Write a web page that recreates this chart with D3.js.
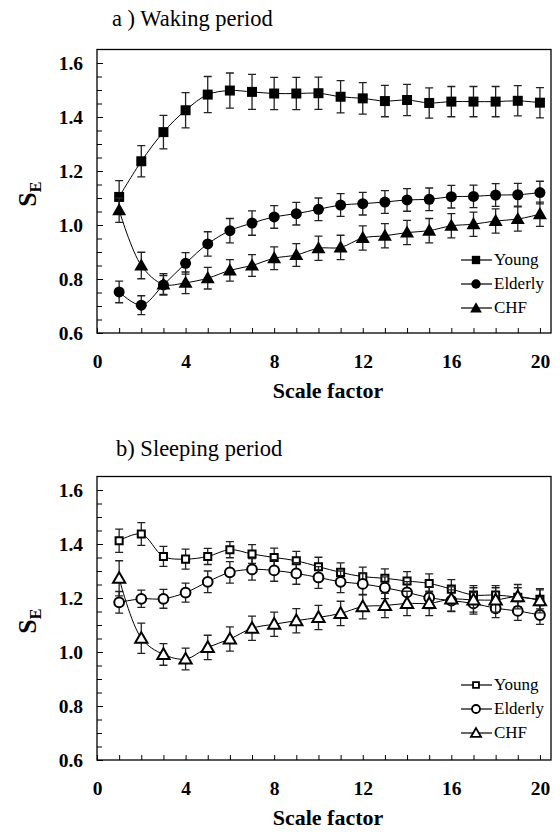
<!DOCTYPE html>
<html lang="en">
<head>
  <meta charset="UTF-8">
  <title>Scale factor vs S_E</title>
  <script src="https://cdn.jsdelivr.net/npm/d3@7"></script>
  <style>
    body { margin: 0; background: #fff; }
    svg text { font-family: "Liberation Serif", "Times New Roman", Times, serif; }
    .tick text { font-size: 19.5px; font-weight: bold; fill: #000; }
    .tick line { stroke: #000; stroke-width: 1; }
  </style>
</head>
<body>
  <div id="chart"></div>
  <script>
    // scale factors 1..20
    const scaleFactors = [1, 2, 3, 4, 5, 6, 7, 8, 9, 10, 11, 12, 13, 14, 15, 16, 17, 18, 19, 20];
    const groups = ['Young', 'Elderly', 'CHF'];
    const xTickValues = [0, 4, 8, 12, 16, 20];
    const yTickValues = [0.6, 0.8, 1.0, 1.2, 1.4, 1.6];

    // a) waking period
    const wakeYoung = [1.104, 1.236, 1.344, 1.425, 1.483, 1.498, 1.493, 1.487, 1.487, 1.488, 1.475, 1.469, 1.459, 1.463, 1.452, 1.457, 1.457, 1.457, 1.460, 1.453];
    const wakeYoungErr = [0.060, 0.058, 0.062, 0.065, 0.067, 0.065, 0.065, 0.060, 0.060, 0.060, 0.060, 0.058, 0.058, 0.058, 0.056, 0.056, 0.056, 0.056, 0.056, 0.056];
    const wakeElderly = [0.752, 0.703, 0.778, 0.858, 0.930, 0.979, 1.007, 1.030, 1.042, 1.058, 1.074, 1.079, 1.085, 1.093, 1.095, 1.105, 1.106, 1.111, 1.112, 1.120];
    const wakeElderlyErr = [0.040, 0.035, 0.035, 0.040, 0.045, 0.045, 0.045, 0.042, 0.042, 0.042, 0.042, 0.042, 0.042, 0.042, 0.042, 0.042, 0.042, 0.042, 0.042, 0.042];
    const wakeCHF = [1.055, 0.850, 0.780, 0.786, 0.803, 0.832, 0.850, 0.877, 0.889, 0.914, 0.917, 0.952, 0.960, 0.972, 0.979, 0.997, 1.003, 1.015, 1.022, 1.040];
    const wakeCHFErr = [0.045, 0.049, 0.040, 0.040, 0.040, 0.040, 0.040, 0.042, 0.042, 0.045, 0.045, 0.045, 0.045, 0.045, 0.045, 0.045, 0.045, 0.045, 0.045, 0.045];

    // b) sleeping period
    const sleepYoung = [1.412, 1.437, 1.354, 1.344, 1.354, 1.379, 1.363, 1.350, 1.338, 1.316, 1.295, 1.279, 1.273, 1.263, 1.254, 1.233, 1.211, 1.211, 1.203, 1.195];
    const sleepYoungErr = [0.043, 0.042, 0.037, 0.037, 0.030, 0.030, 0.035, 0.035, 0.035, 0.035, 0.035, 0.035, 0.035, 0.035, 0.035, 0.035, 0.035, 0.035, 0.035, 0.035];
    const sleepElderly = [1.184, 1.197, 1.197, 1.220, 1.260, 1.295, 1.306, 1.302, 1.291, 1.276, 1.260, 1.252, 1.238, 1.221, 1.201, 1.190, 1.180, 1.162, 1.152, 1.137];
    const sleepElderlyErr = [0.040, 0.032, 0.035, 0.035, 0.040, 0.040, 0.040, 0.040, 0.040, 0.040, 0.040, 0.040, 0.040, 0.040, 0.040, 0.040, 0.040, 0.035, 0.035, 0.035];
    const sleepCHF = [1.273, 1.051, 0.991, 0.974, 1.017, 1.048, 1.088, 1.103, 1.116, 1.128, 1.143, 1.168, 1.172, 1.180, 1.180, 1.196, 1.193, 1.193, 1.205, 1.190];
    const sleepCHFErr = [0.065, 0.056, 0.040, 0.040, 0.045, 0.045, 0.045, 0.045, 0.045, 0.045, 0.045, 0.045, 0.045, 0.045, 0.045, 0.045, 0.045, 0.045, 0.045, 0.045];

    const width = 560, height = 832;
    const svg = d3.select('#chart').append('svg')
      .attr('width', width)
      .attr('height', height);

    svg.append('rect').attr('width', width).attr('height', height).attr('fill', '#fff');

    const x = d3.scaleLinear().domain([0, 20.5]).range([97, 551]);

    const panels = [
      {
        title: 'a ) Waking period', titleX: 112, titleY: 26, top: 333,
        filled: true,
        series: [[wakeYoung, wakeYoungErr], [wakeElderly, wakeElderlyErr], [wakeCHF, wakeCHFErr]],
        legendY: [260, 284, 308]
      },
      {
        title: 'b) Sleeping period', titleX: 116, titleY: 456, top: 760,
        filled: false,
        series: [[sleepYoung, sleepYoungErr], [sleepElderly, sleepElderlyErr], [sleepCHF, sleepCHFErr]],
        legendY: [685, 709, 733]
      }
    ];

    const symbols = [d3.symbolSquare, d3.symbolCircle, d3.symbolTriangle];
    const line = d3.line().curve(d3.curveCatmullRom.alpha(0.5));

    panels.forEach(p => {
      const y = d3.scaleLinear().domain([0.6, 1.65]).range([p.top, p.top - 1.05 * 270]);
      const g = svg.append('g');

      // title
      svg.append('text')
        .attr('x', p.titleX).attr('y', p.titleY)
        .attr('font-size', 22.5)
        .text(p.title);

      // minor y ticks
      const yMinor = d3.range(0.65, 1.62, 0.05).filter(v => Math.abs(Math.round(v * 5) - v * 5) > 0.01);
      g.append('g')
        .attr('transform', `translate(${x(0)},0)`)
        .call(d3.axisLeft(y).tickValues(yMinor).tickSize(-5).tickFormat(''))
        .call(a => a.select('.domain').remove());

      g.append('g')
        .attr('transform', `translate(${x(0)},0)`)
        .call(d3.axisLeft(y).tickValues(yTickValues).tickSize(-6).tickPadding(14)
          .tickFormat(d3.format('.1f')))
        .call(a => a.select('.domain').remove());

      g.append('g')
        .attr('transform', `translate(0,${p.top})`)
        .call(d3.axisBottom(x).tickValues(d3.range(0, 21)).tickSize(-5).tickPadding(21)
          .tickFormat(d => xTickValues.includes(d) ? d : ''))
        .call(a => a.select('.domain').remove());

      g.selectAll('.tick text').attr('font-family', null);

      // frame
      g.append('rect')
        .attr('x', x(0)).attr('y', y(1.65))
        .attr('width', x(20.5) - x(0)).attr('height', y(0.6) - y(1.65))
        .attr('fill', 'none').attr('stroke', '#000').attr('stroke-width', 1.3);

      // axis labels
      const yl = svg.append('text')
        .attr('transform', `translate(36,${(y(0.6) + y(1.65)) / 2 + 3}) rotate(-90)`)
        .attr('text-anchor', 'middle')
        .attr('font-size', 26).attr('font-weight', 'bold');
      yl.append('tspan').text('S');
      yl.append('tspan').attr('font-size', 16).attr('dy', 5).text('E');

      svg.append('text')
        .attr('x', 328).attr('y', p.top + 65)
        .attr('text-anchor', 'middle')
        .attr('font-size', 22).attr('font-weight', 'bold')
        .text('Scale factor');

      // series
      p.series.forEach(([vals, errs], i) => {
        const pts = scaleFactors.map((s, j) => [x(s), y(vals[j])]);
        const sg = g.append('g');
        sg.append('path')
          .attr('d', line(pts))
          .attr('fill', 'none').attr('stroke', '#000').attr('stroke-width', 1);

        scaleFactors.forEach((s, j) => {
          const cx = x(s), y0 = y(vals[j] - errs[j]), y1 = y(vals[j] + errs[j]);
          sg.append('path')
            .attr('d', `M${cx},${y0}V${y1}M${cx - 4},${y0}H${cx + 4}M${cx - 4},${y1}H${cx + 4}`)
            .attr('fill', 'none').attr('stroke', '#222').attr('stroke-width', 1.3);
        });

        const sym = d3.symbol().type(symbols[i]).size(p.filled ? [100, 95, 85][i] : [50, 75, 65][i]);
        sg.selectAll('.m').data(pts).join('path')
          .attr('transform', d => `translate(${d[0]},${d[1] + (i === 2 ? 1 : 0)})`)
          .attr('d', sym)
          .attr('fill', p.filled ? '#000' : '#fff')
          .attr('stroke', '#000')
          .attr('stroke-width', p.filled ? 0 : 2);

        // legend
        const ly = p.legendY[i];
        const lg = svg.append('g');
        lg.append('line')
          .attr('x1', 461).attr('x2', 492).attr('y1', ly).attr('y2', ly)
          .attr('stroke', '#000').attr('stroke-width', 1.2);
        lg.append('path')
          .attr('transform', `translate(476,${ly + (i === 2 ? 1 : 0)})`)
          .attr('d', d3.symbol().type(symbols[i]).size(p.filled ? [70, 70, 60][i] : [35, 50, 45][i]))
          .attr('fill', p.filled ? '#000' : '#fff')
          .attr('stroke', '#000').attr('stroke-width', p.filled ? 0 : 1.8);
        lg.append('text')
          .attr('x', 494).attr('y', ly + 5)
          .attr('font-size', 17)
          .text(groups[i]);
      });
    });
  </script>
</body>
</html>
